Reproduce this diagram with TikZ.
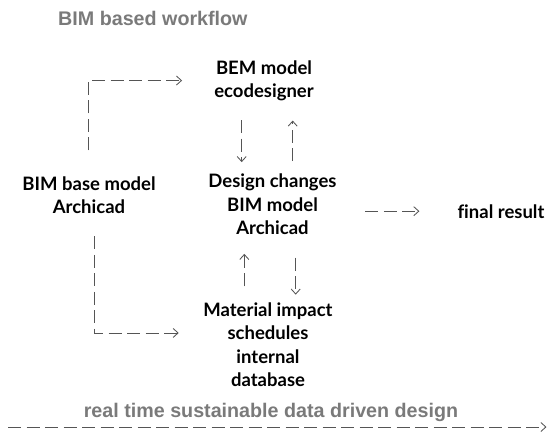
\documentclass[tikz,border=0pt]{standalone}
\usepackage{fontspec}
\setmainfont{Lato}[Ligatures=NoCommon]
\newfontfamily\headfont{Liberation Sans}
\usetikzlibrary{arrows.meta}
\definecolor{headgray}{HTML}{7A7A7A}
\definecolor{linegray}{HTML}{555555}
\begin{document}
\begin{tikzpicture}[x=1pt,y=-1pt,
  box/.style={font=\fontsize{18.5}{23.5}\selectfont\bfseries, align=center, inner sep=0pt, anchor=base},
  heading/.style={font=\headfont\fontsize{19.7}{24}\selectfont\bfseries, text=headgray, inner sep=0pt, anchor=base},
  flow/.style={draw=linegray, line width=0.85pt, dash pattern=on 13pt off 5.5pt,
    -{Straight Barb[length=5pt,width=9pt]}}]
\useasboundingbox (0,0) rectangle (547,434);

% titles
\node[heading, anchor=base west] (title) at (58,25) {BIM based workflow};
\node[heading] (footer) at (271,417) {real time sustainable data driven design};

% workflow stages (placed by the baseline of their last line)
\node[box] (bem) at (264,97.5) {BEM model\\ecodesigner};
\node[box] (base) at (89,213.5) {BIM base model\\Archicad};
\node[box] (design) at (272.5,234.5) {Design changes\\BIM model\\Archicad};
\node[box] (material) at (268,386.5) {Material impact\\schedules\\internal\\database};
\node[box] (final) at (501,218) {final result};

% connector columns
\coordinate (colA) at (88,0);
\coordinate (colB) at (94.3,0);
\coordinate (colC) at (241.7,0);
\coordinate (colD) at (292.7,0);
\coordinate (colE) at (244.3,0);
\coordinate (colF) at (295.7,0);

% base model feeds both analyses
\draw[flow, shorten <=25.7pt, shorten >=32pt] (colA |- base.north) |- (bem.west);
\draw[flow, shorten <=22.5pt, shorten >=24.5pt] (colB |- base.south) |- ([yshift=11.5pt]material.west);

% loop with the energy model
\draw[flow, shorten <=19pt, shorten >=11.4pt] (colC |- bem.south) -- (colC |- design.north);
\draw[flow, shorten <=12.4pt, shorten >=19.5pt] (colD |- design.north) -- (colD |- bem.south);

% loop with the material database
\draw[flow, shorten <=15.7pt, shorten >=19pt] (colE |- material.north) -- (colE |- design.south);
\draw[flow, shorten <=22.7pt, shorten >=7.4pt] (colF |- design.south) -- (colF |- material.north);

% result
\draw[flow, shorten <=28.5pt, shorten >=38pt] (design.east |- final.west) -- (final.west);

% timeline
\coordinate (runL) at (8,427);
\coordinate (runR) at (546.5,427);
\draw[flow] (runL) -- (runR);
\end{tikzpicture}
\end{document}
